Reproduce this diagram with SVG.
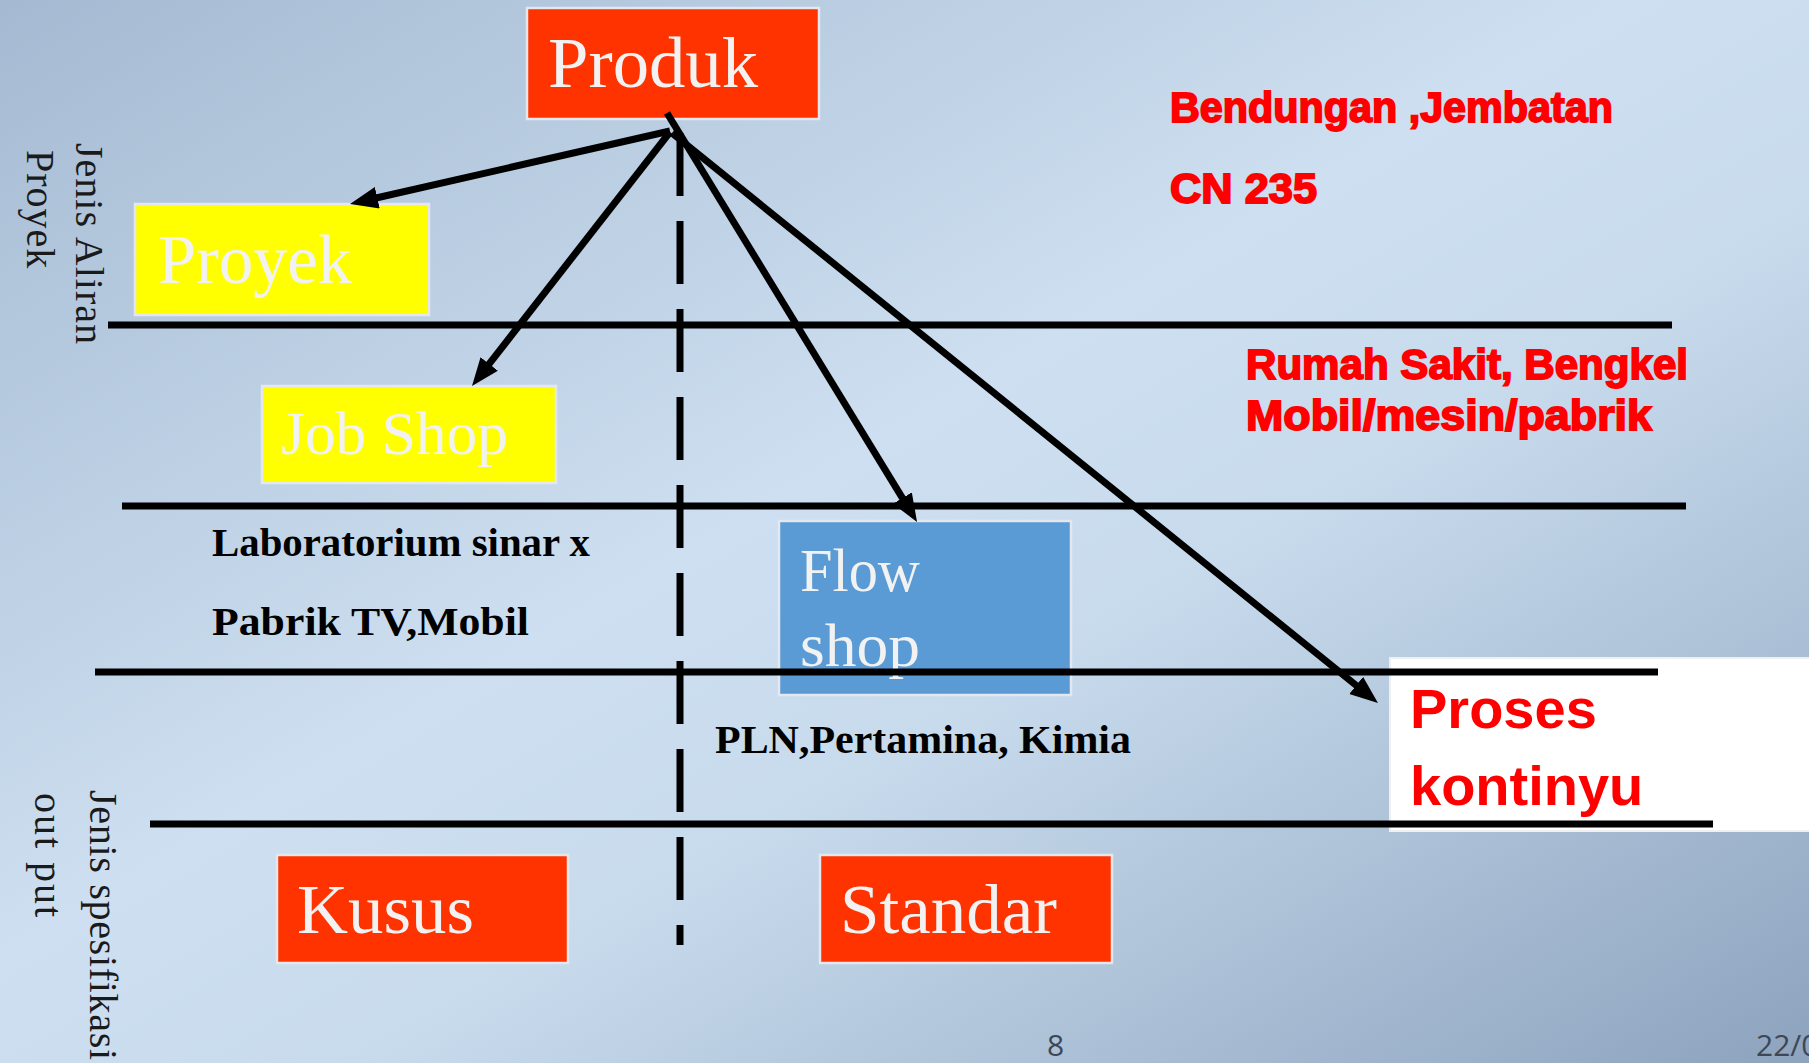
<svg xmlns="http://www.w3.org/2000/svg" width="1809" height="1063" viewBox="0 0 1809 1063">
  <defs>
    <linearGradient id="bg" x1="0" y1="0" x2="1" y2="1">
      <stop offset="0" stop-color="#A5BAD2"/>
      <stop offset="0.45" stop-color="#CDDFF0"/>
      <stop offset="0.6" stop-color="#C8DBED"/>
      <stop offset="1" stop-color="#8DA3BE"/>
    </linearGradient>
    <marker id="arrow" markerUnits="userSpaceOnUse" markerWidth="30" markerHeight="24" refX="8" refY="11" orient="auto">
      <path d="M0,0 L28,11 L0,22 z" fill="#000"/>
    </marker>
  </defs>
  <style>
    .box { stroke: #E4E8EE; stroke-width: 2.5; }
    .red { fill: #FF3300; }
    .yellow { fill: #FFFF00; }
    .blue { fill: #5B9BD5; }
    .white { fill: #FFFFFF; stroke: #F0F0F0; }
    .boxtext { font-family: "Liberation Serif", "DejaVu Serif", serif; fill: #F2F2F2; }
    .sep { stroke: #000; stroke-width: 7; fill: none; }
    .dash { stroke: #000; stroke-width: 7; stroke-dasharray: 63 25; fill: none; }
    .arr { stroke: #000; stroke-width: 7; fill: none; marker-end: url(#arrow); }
    .vlabel { font-family: "Liberation Serif", "DejaVu Serif", serif; font-size: 40px; fill: #1a1a1a; }
    .impact { font-family: "Liberation Sans", "DejaVu Sans", sans-serif; font-weight: bold; font-size: 42px; fill: #FF0000; stroke: #FF0000; stroke-width: 1.8; }
    .example { font-family: "Liberation Serif", "DejaVu Serif", serif; font-weight: bold; font-size: 40px; fill: #000; }
    .proses { font-family: "Liberation Sans", "DejaVu Sans", sans-serif; font-weight: bold; font-size: 56px; fill: #FF0000; }
    .footer { font-family: "Open Sans", "Liberation Sans", sans-serif; font-size: 30px; fill: #3E4756; }
  </style>

  <rect x="0" y="0" width="1809" height="1063" fill="url(#bg)"/>

  <!-- nodes -->
  <g id="produk">
    <rect class="box red" x="527" y="8" width="292" height="111"/>
    <text class="boxtext" x="548" y="87" font-size="72" textLength="210" lengthAdjust="spacingAndGlyphs">Produk</text>
  </g>
  <g id="proyek">
    <rect class="box yellow" x="135" y="204" width="294" height="111"/>
    <text class="boxtext" x="158" y="283" font-size="70" textLength="194" lengthAdjust="spacingAndGlyphs">Proyek</text>
  </g>
  <g id="job-shop">
    <rect class="box yellow" x="262" y="386" width="294" height="97"/>
    <text class="boxtext" x="281" y="454" font-size="62" textLength="227" lengthAdjust="spacingAndGlyphs">Job Shop</text>
  </g>
  <g id="flow-shop">
    <rect class="box blue" x="779" y="521" width="292" height="174"/>
    <text class="boxtext" x="800" y="591" font-size="62" textLength="120" lengthAdjust="spacingAndGlyphs">Flow</text>
    <text class="boxtext" x="800" y="666" font-size="62" textLength="120" lengthAdjust="spacingAndGlyphs">shop</text>
  </g>
  <g id="proses-kontinyu">
    <rect class="white" x="1390" y="658" width="425" height="173" stroke-width="2"/>
    <text class="proses" x="1410" y="728">Proses</text>
    <text class="proses" x="1410" y="805">kontinyu</text>
  </g>
  <g id="kusus">
    <rect class="box red" x="277" y="855" width="291" height="108"/>
    <text class="boxtext" x="297" y="933" font-size="70" textLength="177" lengthAdjust="spacingAndGlyphs">Kusus</text>
  </g>
  <g id="standar">
    <rect class="box red" x="820" y="855" width="292" height="108"/>
    <text class="boxtext" x="840" y="933" font-size="70" textLength="217" lengthAdjust="spacingAndGlyphs">Standar</text>
  </g>

  <!-- separators -->
  <g id="separators">
    <line class="sep" x1="108" y1="325" x2="1672" y2="325"/>
    <line class="sep" x1="122" y1="506" x2="1686" y2="506"/>
    <line class="sep" x1="95" y1="672" x2="1658" y2="672"/>
    <line class="sep" x1="150" y1="824" x2="1713" y2="824"/>
    <line class="dash" x1="680" y1="133" x2="680" y2="945"/>
  </g>

  <!-- connectors -->
  <g id="connectors">
    <line class="arr" x1="670" y1="131" x2="369.5" y2="199.5" stroke-width="8"/>
    <line class="arr" x1="670" y1="132" x2="484.3" y2="370.2"/>
    <line class="arr" x1="667" y1="113" x2="906.6" y2="504.9"/>
    <line class="arr" x1="672" y1="133" x2="1362.4" y2="690.4"/>
  </g>

  <!-- axis labels -->
  <g id="axis-top">
    <text class="vlabel" transform="translate(76,143) rotate(90)" letter-spacing="1">Jenis Aliran</text>
    <text class="vlabel" transform="translate(27,150) rotate(90)" letter-spacing="1">Proyek</text>
  </g>
  <g id="axis-bottom">
    <text class="vlabel" transform="translate(90,790) rotate(90)" font-size="42" letter-spacing="0.7">Jenis spesifikasi</text>
    <text class="vlabel" transform="translate(35,793) rotate(90)" letter-spacing="2">out put</text>
  </g>

  <!-- example labels -->
  <g id="examples-red">
    <text class="impact" x="1170" y="122" textLength="443" lengthAdjust="spacingAndGlyphs">Bendungan ,Jembatan</text>
    <text class="impact" x="1170" y="203" textLength="147" lengthAdjust="spacingAndGlyphs">CN 235</text>
    <text class="impact" x="1246" y="379" textLength="442" lengthAdjust="spacingAndGlyphs">Rumah Sakit, Bengkel</text>
    <text class="impact" x="1246" y="430" textLength="406" lengthAdjust="spacingAndGlyphs">Mobil/mesin/pabrik</text>
  </g>
  <g id="examples-black">
    <text class="example" x="212" y="556" textLength="378" lengthAdjust="spacingAndGlyphs">Laboratorium sinar x</text>
    <text class="example" x="212" y="635" textLength="317" lengthAdjust="spacingAndGlyphs">Pabrik TV,Mobil</text>
    <text class="example" x="715" y="753" textLength="416" lengthAdjust="spacingAndGlyphs">PLN,Pertamina, Kimia</text>
  </g>

  <g id="footer">
    <text class="footer" x="1047" y="1056">8</text>
    <text class="footer" x="1756" y="1056">22/0</text>
  </g>
</svg>
